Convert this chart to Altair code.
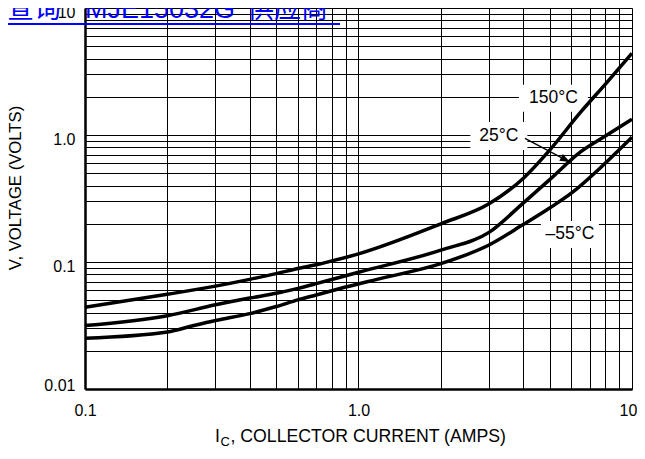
import altair as alt
import pandas as pd

# ---- data ----
ic_150 = [0.1, 0.2, 0.3, 0.4, 0.5, 0.6, 0.7, 0.8, 1.0, 2.0, 3.0, 4.0, 5.0, 6.5, 8.1, 10.0]
v_150 = [0.044, 0.0557, 0.0646, 0.073, 0.081, 0.089, 0.095, 0.102, 0.116, 0.2, 0.287, 0.455, 0.76, 1.52, 2.6, 4.4]

ic_25 = [0.1, 0.2, 0.3, 0.4, 0.5, 0.6, 0.7, 0.85, 1.0, 2.0, 3.0, 4.0, 5.0, 6.5, 8.1, 10.0]
v_25 = [0.0316, 0.0378, 0.046, 0.052, 0.0567, 0.062, 0.0675, 0.0755, 0.083, 0.124, 0.171, 0.291, 0.445, 0.74, 1.0, 1.33]

ic_m55 = [0.1, 0.2, 0.25, 0.3, 0.4, 0.5, 0.6, 0.7, 0.85, 1.2, 2.0, 3.0, 4.0, 5.0, 6.1, 7.6, 10.0]
v_m55 = [0.0251, 0.0281, 0.0316, 0.0346, 0.0392, 0.0446, 0.0503, 0.055, 0.0615, 0.074, 0.097, 0.136, 0.197, 0.266, 0.358, 0.543, 0.96]

series_names = ["150°C", "25°C", "−55°C"]

x_grid = [0.1, 0.2, 0.3, 0.4, 0.5, 0.6, 0.7, 0.8, 0.9,
          1, 2, 3, 4, 5, 6, 7, 8, 9, 10]
y_grid = [0.01, 0.02, 0.03, 0.04, 0.05, 0.06, 0.07, 0.08, 0.09,
          0.1, 0.2, 0.3, 0.4, 0.5, 0.6, 0.7, 0.8, 0.9,
          1, 2, 3, 4, 5, 6, 7, 8, 9, 10]

# annotations (label text and anchor in data units)
ann_text = ["150°C", "25°C", "–55°C"]
ann_ic = [5.16, 3.26, 5.93]
ann_v = [1.95, 0.982, 0.165]
arrow_ic = [4.06, 5.93]
arrow_v = [0.94, 0.612]

link_parts = ["查询", "MJE15032G", "供应商"]
y_title = "V, VOLTAGE (VOLTS)"
x_title_parts = ["I", "C", ", COLLECTOR CURRENT (AMPS)"]

# ---- build tables ----
rows = []
for name, xs, ys in zip(series_names, [ic_150, ic_25, ic_m55], [v_150, v_25, v_m55]):
    for a, b in zip(xs, ys):
        rows.append({"series": name, "ic": a, "v": b})
curves = pd.DataFrame(rows)

FONT = "Liberation Sans, Arial, Helvetica, sans-serif"
FONT_CJK = "Liberation Sans, Arial, Noto Sans CJK SC"

xscale = alt.Scale(type="log", domain=[0.1, 10], nice=False)
yscale = alt.Scale(type="log", domain=[0.01, 10], nice=False)

xaxis = alt.Axis(
    values=x_grid,
    labelExpr="datum.value == 0.1 ? '0.1' : datum.value == 1 ? '1.0' : datum.value == 10 ? '10' : ''",
    grid=True, gridColor="black", gridWidth=1, gridOpacity=1,
    ticks=False, domain=True, domainColor="black", domainWidth=2.5,
    labelFont=FONT, labelFontSize=16, labelColor="black",
    labelPadding=13, labelFlush=False, labelOverlap=False, title=None,
    labelOffset={"condition": {"test": "datum.value == 10", "value": -4}, "value": 0},
)
yaxis = alt.Axis(
    values=y_grid,
    labelExpr="datum.value == 0.01 ? '0.01' : datum.value == 0.1 ? '0.1' : datum.value == 1 ? '1.0' : datum.value == 10 ? '10' : ''",
    grid=True, gridColor="black", gridWidth=1, gridOpacity=1,
    ticks=False, domain=True, domainColor="black", domainWidth=2.5,
    labelFont=FONT, labelFontSize=16, labelColor="black",
    labelPadding=10, labelFlush=False, labelOffset=4,
    labelBaseline={"condition": {"test": "datum.value == 0.01", "value": "bottom"}, "value": "middle"},
    labelOverlap=False, title=None,
)

base = alt.Chart(curves).mark_line(color="black", strokeWidth=3.5, interpolate="monotone").encode(
    x=alt.X("ic:Q", scale=xscale, axis=xaxis),
    y=alt.Y("v:Q", scale=yscale, axis=yaxis),
    detail="series:N",
)

# white boxes behind annotations
box_sizes = [(69, 27), (57, 28), (58, 27)]
boxes = []
for (w, h), a, b in zip(box_sizes, ann_ic, ann_v):
    r = h / w
    path = f"M-1,-{r:.4f}L1,-{r:.4f}L1,{r:.4f}L-1,{r:.4f}Z"
    boxes.append(
        alt.Chart(pd.DataFrame({"ic": [a], "v": [b]})).mark_point(
            shape=path, size=w * w, filled=True, fill="white", strokeWidth=0, opacity=1
        ).encode(x=alt.X("ic:Q", scale=xscale), y=alt.Y("v:Q", scale=yscale))
    )

ann_df = pd.DataFrame({"t": ann_text, "ic": ann_ic, "v": ann_v})
labels = alt.Chart(ann_df).mark_text(
    font=FONT, fontSize=17.5, color="black", align="center", baseline="middle"
).encode(x=alt.X("ic:Q", scale=xscale), y=alt.Y("v:Q", scale=yscale), text="t:N")

arrow_df = pd.DataFrame({"ic": [arrow_ic[0]], "v": [arrow_v[0]], "ic2": [arrow_ic[1]], "v2": [arrow_v[1]]})
arrow_line = alt.Chart(arrow_df).mark_rule(color="black", strokeWidth=1.3).encode(
    x=alt.X("ic:Q", scale=xscale), y=alt.Y("v:Q", scale=yscale), x2="ic2:Q", y2="v2:Q"
)
arrow_head = alt.Chart(pd.DataFrame({"ic": [arrow_ic[1]], "v": [arrow_v[1]]})).mark_point(
    shape="M0,0L-1,-0.38L-1,0.38Z", size=400, angle=28, filled=True, fill="black", strokeWidth=0, opacity=1
).encode(x=alt.X("ic:Q", scale=xscale), y=alt.Y("v:Q", scale=yscale))

one = pd.DataFrame({"k": [0]})

# blue link text at top
link_x = [-78, 0, 162]
link_layers = []
for txt, lx in zip(link_parts, link_x):
    link_layers.append(
        alt.Chart(one).mark_text(
            font=FONT_CJK, fontSize=27, color="#0000ff", align="left", baseline="alphabetic"
        ).encode(x=alt.value(lx), y=alt.value(10), text=alt.value(txt))
    )
underline = alt.Chart(one).mark_rule(color="#0000ff", strokeWidth=2.2).encode(
    x=alt.value(-80), x2=alt.value(255), y=alt.value(16)
)

ytitle = alt.Chart(one).mark_text(
    font=FONT, fontSize=16.7, color="black", angle=270, align="center", baseline="middle"
).encode(x=alt.value(-69), y=alt.value(180), text=alt.value(y_title))

xt1 = alt.Chart(one).mark_text(font=FONT, fontSize=17.7, color="black", align="left", baseline="alphabetic").encode(
    x=alt.value(130), y=alt.value(434), text=alt.value(x_title_parts[0]))
xt2 = alt.Chart(one).mark_text(font=FONT, fontSize=13, color="black", align="left", baseline="alphabetic").encode(
    x=alt.value(135.5), y=alt.value(437.5), text=alt.value(x_title_parts[1]))
xt3 = alt.Chart(one).mark_text(font=FONT, fontSize=17.7, color="black", align="left", baseline="alphabetic").encode(
    x=alt.value(145.5), y=alt.value(434), text=alt.value(x_title_parts[2]))

chart = alt.layer(
    base.mark_line(opacity=0),
    *boxes,
    base,
    arrow_line,
    arrow_head,
    labels,
    *link_layers,
    underline,
    ytitle,
    xt1, xt2, xt3,
).resolve_scale(x="shared", y="shared").properties(
    width=547, height=381,
    padding={"left": 77, "top": 0, "right": 5, "bottom": 57},
    autosize=alt.AutoSizeParams(type="none"),
).configure_view(stroke=None)

chart.save("out.html", embed_options={"renderer": "svg", "actions": False})
